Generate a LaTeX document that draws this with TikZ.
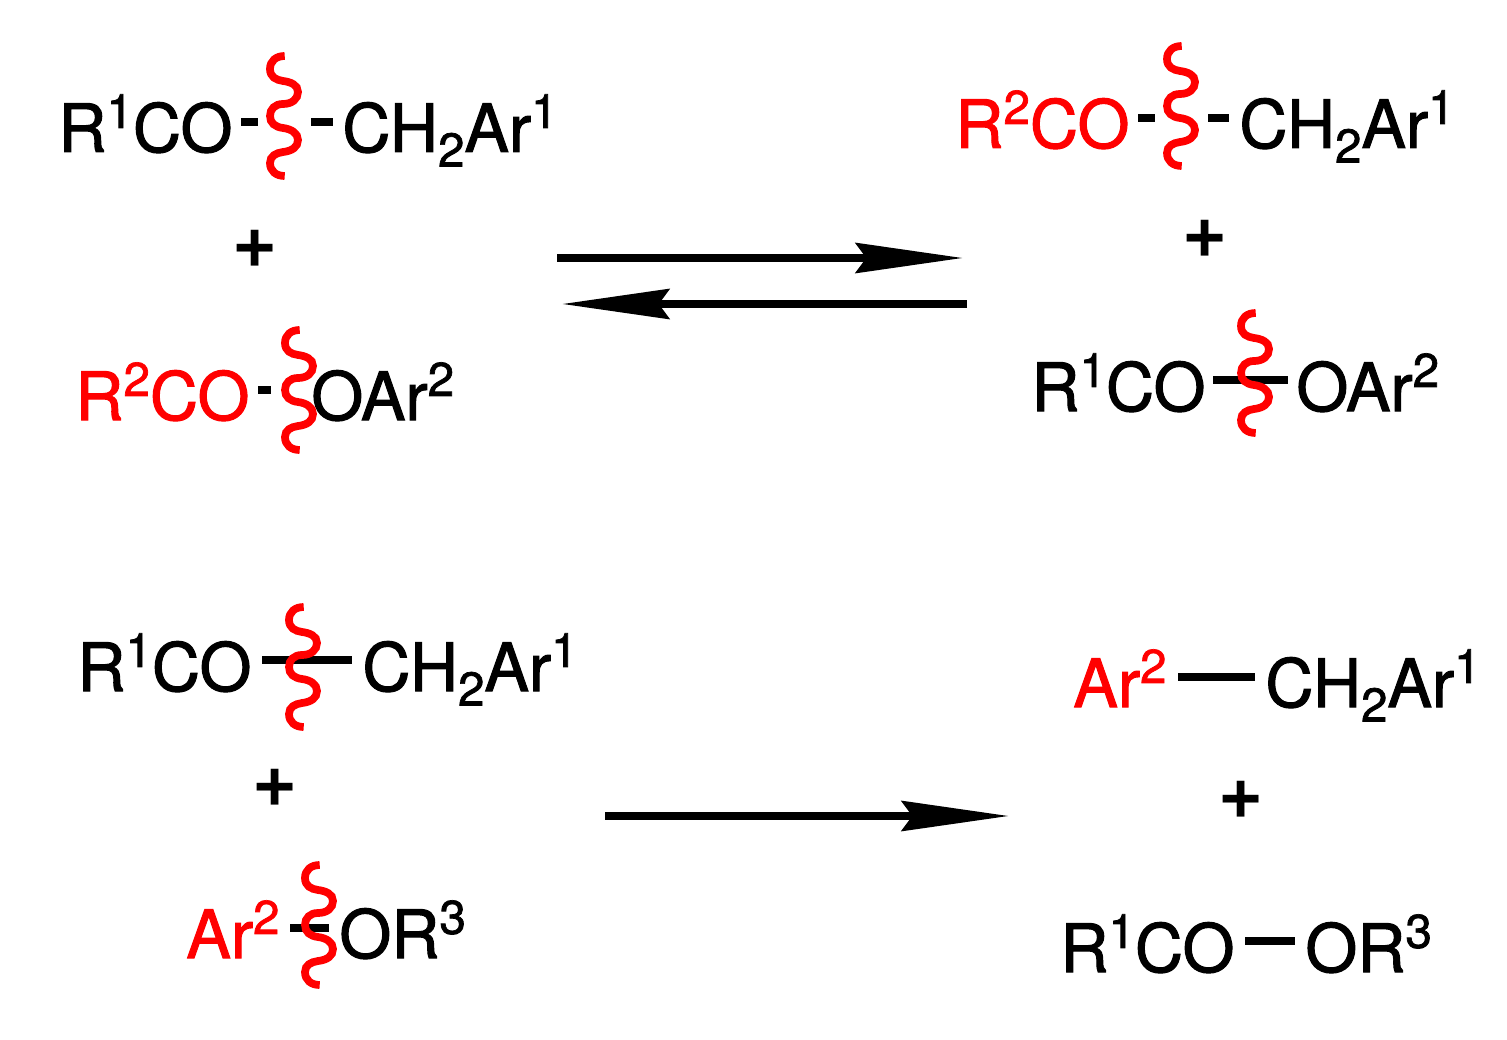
\documentclass[tikz,border=0pt]{standalone}
\usepackage{fontspec}
\setmainfont{TeX Gyre Heros}
\newfontfamily\chemfont[FakeBold=1.5]{TeX Gyre Heros}
\usepackage{xcolor}
\usetikzlibrary{arrows.meta}

\newcommand{\supr}[1]{\raisebox{13.7pt}{\fontsize{27}{30}\selectfont #1}}
\newcommand{\subr}[1]{\raisebox{-8.3pt}{\fontsize{27}{30}\selectfont #1}}

\tikzset{
    chem/.style={anchor=base west, inner sep=0pt, font=\chemfont\fontsize{38}{42}\selectfont},
    plus/.style={inner sep=0pt, font=\fontsize{44}{48}\selectfont\bfseries},
    bond/.style={line width=4.4pt},
    rxn/.style={line width=4.5pt, -{Stealth[length=61pt, width=17pt, inset=6pt]}},
    wavycut/.pic={
        \draw[red, line width=4.4pt]
            (0.7,-60) .. controls (-8,-60) and (-14,-55) .. (-14,-47)
            .. controls (-14,-39) and (-8,-36) .. (-1,-35)
            .. controls (7,-34) and (14,-31) .. (14,-24)
            .. controls (14,-17) and (8,-12) .. (-1,-12)
            .. controls (-9,-12) and (-14,-7) .. (-14,0)
            .. controls (-14,7) and (-9,11) .. (-1,12)
            .. controls (7,13) and (14,17) .. (14,24)
            .. controls (14,31) and (8,35) .. (-1,36)
            .. controls (-8,37) and (-14,40) .. (-14,47)
            .. controls (-14,55) and (-8,60) .. (0.7,60);
    }
}

\begin{document}
\begin{tikzpicture}[x=0.02cm, y=-0.02cm]
    \useasboundingbox (0,0) rectangle (1507,1040);

    % top left
    \node[chem] (acyl) at (58,152) {R\supr{1}CO};
    \node[chem] (benzyl) at (342,152) {CH\subr{2}Ar\supr{1}};
    \node[plus] (plusa) at (255,249) {+};
    \node[chem, red] (acylb) at (75,420) {R\supr{2}CO};
    \node[chem] (oaryl) at (311,420) {OAr\supr{2}};

    \coordinate (sa1) at (241,122);
    \coordinate (sa2) at (258,122);
    \coordinate (sa3) at (311,122);
    \coordinate (sa4) at (333,122);
    \coordinate (sb1) at (258,390);
    \coordinate (sb2) at (271,390);
    \draw[bond] (sa1) -- (sa2);
    \draw[bond] (sa3) -- (sa4);
    \draw[bond] (sb1) -- (sb2);
    \pic at (284,116) {wavycut};
    \pic at (299,390) {wavycut};

    % top right
    \node[chem, red] (acylc) at (955,148) {R\supr{2}CO};
    \node[chem] (benzylb) at (1239,148) {CH\subr{2}Ar\supr{1}};
    \node[plus] (plusb) at (1205,239) {+};
    \node[chem] (acyld) at (1031,411) {R\supr{1}CO};
    \node[chem] (oarylb) at (1296,411) {OAr\supr{2}};

    \coordinate (sc1) at (1138,118);
    \coordinate (sc2) at (1155,118);
    \coordinate (sc3) at (1208,118);
    \coordinate (sc4) at (1229,118);
    \coordinate (sd1) at (1213,380);
    \coordinate (sd2) at (1288,380);
    \draw[bond] (sc1) -- (sc2);
    \draw[bond] (sc3) -- (sc4);
    \draw[bond] (sd1) -- (sd2);
    \pic at (1181,106) {wavycut};
    \pic at (1255,373) {wavycut};

    % bottom left
    \node[chem] (acyle) at (77,691) {R\supr{1}CO};
    \node[chem] (benzylc) at (362,691) {CH\subr{2}Ar\supr{1}};
    \node[plus] (plusc) at (275,788) {+};
    \node[chem, red] (aryl) at (186,958) {Ar\supr{2}};
    \node[chem] (oalk) at (339,958) {OR\supr{3}};

    \coordinate (se1) at (262,660);
    \coordinate (se2) at (352,660);
    \coordinate (sf1) at (290,928);
    \coordinate (sf2) at (329,928);
    \draw[bond] (se1) -- (se2);
    \draw[bond] (sf1) -- (sf2);
    \pic at (303,667) {wavycut};
    \pic at (319,925) {wavycut};

    % bottom right
    \node[chem, red] (arylb) at (1073,707) {Ar\supr{2}};
    \node[chem] (benzyld) at (1265,707) {CH\subr{2}Ar\supr{1}};
    \node[plus] (plusd) at (1241,800) {+};
    \node[chem] (acylf) at (1060,972) {R\supr{1}CO};
    \node[chem] (oalkb) at (1305,972) {OR\supr{3}};

    \coordinate (sg1) at (1178,677);
    \coordinate (sg2) at (1255,677);
    \coordinate (sh1) at (1245,941);
    \coordinate (sh2) at (1295,941);
    \draw[bond] (sg1) -- (sg2);
    \draw[bond] (sh1) -- (sh2);

    % arrows
    \coordinate (fwd1) at (557,258);
    \coordinate (fwd2) at (963,258);
    \coordinate (bwd1) at (967,304);
    \coordinate (bwd2) at (562,304);
    \coordinate (prod1) at (605,816);
    \coordinate (prod2) at (1009,816);
    \draw[rxn] (fwd1) -- (fwd2);
    \draw[rxn] (bwd1) -- (bwd2);
    \draw[rxn] (prod1) -- (prod2);
\end{tikzpicture}
\end{document}
